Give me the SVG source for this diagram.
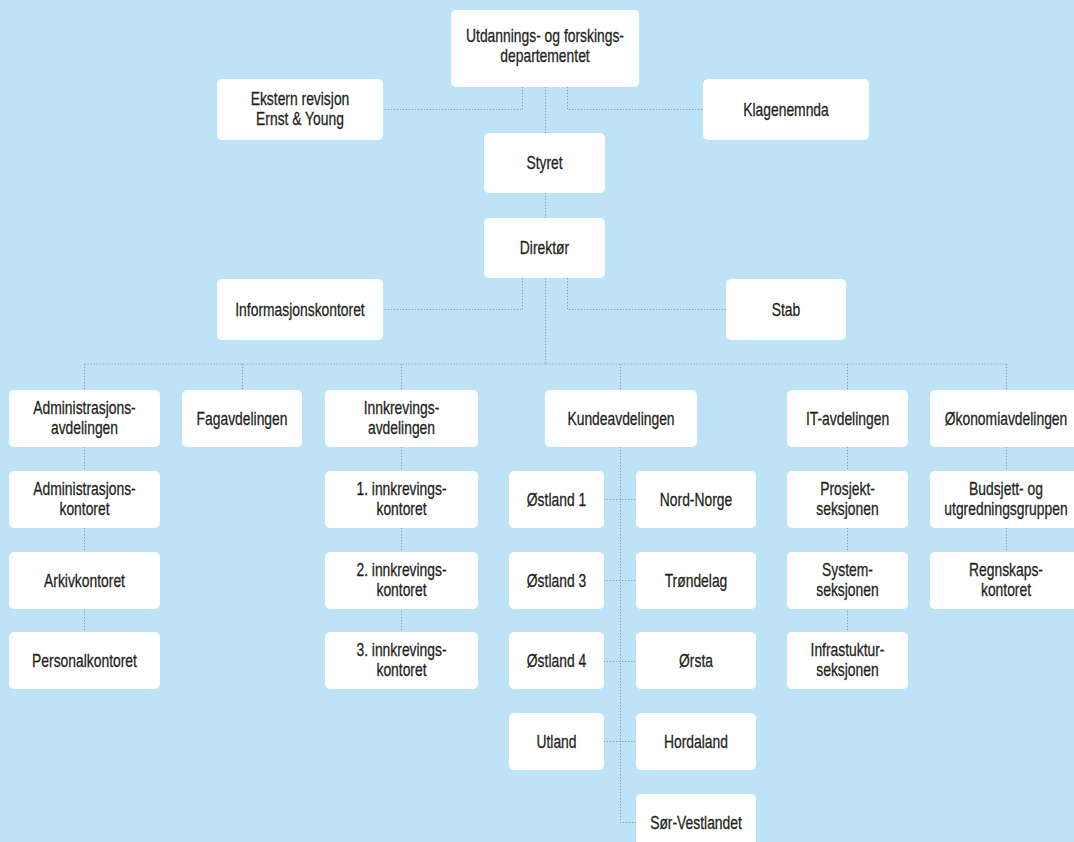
<svg xmlns="http://www.w3.org/2000/svg" width="1074" height="842" viewBox="0 0 1074 842">
<style>
.bg{fill:#bee3f6}
.n rect{fill:#ffffff;stroke:none}
.n text{font-family:"Liberation Sans",Arial,sans-serif;font-size:19px;fill:#231f20;stroke:#231f20;stroke-width:0.3;text-anchor:middle}
.c path{fill:none;stroke:#8c979e;stroke-width:1;stroke-dasharray:1.2 1.8}
</style>
<rect class="bg" x="0" y="0" width="1074" height="842"/>
<g class="c">
<path d="M522.5 87V109.5H383"/>
<path d="M567.5 87V109.5H703"/>
<path d="M545.5 87V133"/>
<path d="M545.5 193V218"/>
<path d="M522.5 278V309.5H383"/>
<path d="M567.5 278V309.5H726"/>
<path d="M545.5 278V364"/>
<path d="M84.5 364H1006.5"/>
<path d="M84.5 364V390"/>
<path d="M242.5 364V390"/>
<path d="M401.5 364V390"/>
<path d="M620.5 364V390"/>
<path d="M847.5 364V390"/>
<path d="M1006.5 364V390"/>
<path d="M84.5 447V471M84.5 528V552M84.5 608V632"/>
<path d="M401.5 447V471M401.5 528V552M401.5 608V632"/>
<path d="M847.5 447V471M847.5 528V552M847.5 608V632"/>
<path d="M1006.5 447V471M1006.5 528V552"/>
<path d="M620.5 447V822.5H636"/>
<path d="M604 499.5H636M604 580.5H636M604 661.5H636M604 741.5H636"/>
</g>
<g id="n-uf" class="n"><rect x="451" y="10" width="188" height="77" rx="5"/><text transform="translate(545 42) scale(0.73 1)">Utdannings- og forskings-</text><text transform="translate(545 62) scale(0.73 1)">departementet</text></g>
<g id="n-ekstern" class="n"><rect x="217" y="79" width="166" height="61" rx="5"/><text transform="translate(300 104.5) scale(0.73 1)">Ekstern revisjon</text><text transform="translate(300 124.5) scale(0.73 1)">Ernst &amp; Young</text></g>
<g id="n-klage" class="n"><rect x="703" y="79" width="166" height="61" rx="5"/><text transform="translate(786 115.5) scale(0.73 1)">Klagenemnda</text></g>
<g id="n-styret" class="n"><rect x="484" y="133" width="121" height="60" rx="5"/><text transform="translate(544.5 169) scale(0.73 1)">Styret</text></g>
<g id="n-direktor" class="n"><rect x="484" y="218" width="121" height="60" rx="5"/><text transform="translate(544.5 254) scale(0.73 1)">Direktør</text></g>
<g id="n-info" class="n"><rect x="217" y="279" width="166" height="61" rx="5"/><text transform="translate(300 315.5) scale(0.73 1)">Informasjonskontoret</text></g>
<g id="n-stab" class="n"><rect x="726" y="279" width="120" height="61" rx="5"/><text transform="translate(786 315.5) scale(0.73 1)">Stab</text></g>
<g id="n-adm" class="n"><rect x="9" y="390" width="151" height="57" rx="5"/><text transform="translate(84.5 413.5) scale(0.73 1)">Administrasjons-</text><text transform="translate(84.5 434) scale(0.73 1)">avdelingen</text></g>
<g id="n-fag" class="n"><rect x="182" y="390" width="120" height="57" rx="5"/><text transform="translate(242 425) scale(0.73 1)">Fagavdelingen</text></g>
<g id="n-innk" class="n"><rect x="325" y="390" width="153" height="57" rx="5"/><text transform="translate(401.5 413.5) scale(0.73 1)">Innkrevings-</text><text transform="translate(401.5 434) scale(0.73 1)">avdelingen</text></g>
<g id="n-kunde" class="n"><rect x="545" y="390" width="152" height="57" rx="5"/><text transform="translate(621 425) scale(0.73 1)">Kundeavdelingen</text></g>
<g id="n-it" class="n"><rect x="787" y="390" width="121" height="57" rx="5"/><text transform="translate(847.5 425) scale(0.73 1)">IT-avdelingen</text></g>
<g id="n-okonomi" class="n"><rect x="930" y="390" width="152" height="57" rx="5"/><text transform="translate(1006 425) scale(0.73 1)">Økonomiavdelingen</text></g>
<g id="n-admkontor" class="n"><rect x="9" y="471" width="151" height="57" rx="5"/><text transform="translate(84.5 494.5) scale(0.73 1)">Administrasjons-</text><text transform="translate(84.5 515) scale(0.73 1)">kontoret</text></g>
<g id="n-arkiv" class="n"><rect x="9" y="552" width="151" height="57" rx="5"/><text transform="translate(84.5 587) scale(0.73 1)">Arkivkontoret</text></g>
<g id="n-personal" class="n"><rect x="9" y="632" width="151" height="57" rx="5"/><text transform="translate(84.5 667) scale(0.73 1)">Personalkontoret</text></g>
<g id="n-innk1" class="n"><rect x="325" y="471" width="153" height="57" rx="5"/><text transform="translate(401.5 494.5) scale(0.73 1)">1. innkrevings-</text><text transform="translate(401.5 515) scale(0.73 1)">kontoret</text></g>
<g id="n-innk2" class="n"><rect x="325" y="552" width="153" height="57" rx="5"/><text transform="translate(401.5 575.5) scale(0.73 1)">2. innkrevings-</text><text transform="translate(401.5 596) scale(0.73 1)">kontoret</text></g>
<g id="n-innk3" class="n"><rect x="325" y="632" width="153" height="57" rx="5"/><text transform="translate(401.5 655.5) scale(0.73 1)">3. innkrevings-</text><text transform="translate(401.5 676) scale(0.73 1)">kontoret</text></g>
<g id="n-ost1" class="n"><rect x="509" y="471" width="95" height="57" rx="5"/><text transform="translate(556.5 506) scale(0.73 1)">Østland 1</text></g>
<g id="n-ost3" class="n"><rect x="509" y="552" width="95" height="57" rx="5"/><text transform="translate(556.5 587) scale(0.73 1)">Østland 3</text></g>
<g id="n-ost4" class="n"><rect x="509" y="632" width="95" height="57" rx="5"/><text transform="translate(556.5 667) scale(0.73 1)">Østland 4</text></g>
<g id="n-utland" class="n"><rect x="509" y="713" width="95" height="57" rx="5"/><text transform="translate(556.5 748) scale(0.73 1)">Utland</text></g>
<g id="n-nord" class="n"><rect x="636" y="471" width="120" height="57" rx="5"/><text transform="translate(696 506) scale(0.73 1)">Nord-Norge</text></g>
<g id="n-trond" class="n"><rect x="636" y="552" width="120" height="57" rx="5"/><text transform="translate(696 587) scale(0.73 1)">Trøndelag</text></g>
<g id="n-orsta" class="n"><rect x="636" y="632" width="120" height="57" rx="5"/><text transform="translate(696 667) scale(0.73 1)">Ørsta</text></g>
<g id="n-hord" class="n"><rect x="636" y="713" width="120" height="57" rx="5"/><text transform="translate(696 748) scale(0.73 1)">Hordaland</text></g>
<g id="n-sorvest" class="n"><rect x="636" y="794" width="120" height="57" rx="5"/><text transform="translate(696 829) scale(0.73 1)">Sør-Vestlandet</text></g>
<g id="n-prosjekt" class="n"><rect x="787" y="471" width="121" height="57" rx="5"/><text transform="translate(847.5 494.5) scale(0.73 1)">Prosjekt-</text><text transform="translate(847.5 515) scale(0.73 1)">seksjonen</text></g>
<g id="n-system" class="n"><rect x="787" y="552" width="121" height="57" rx="5"/><text transform="translate(847.5 575.5) scale(0.73 1)">System-</text><text transform="translate(847.5 596) scale(0.73 1)">seksjonen</text></g>
<g id="n-infra" class="n"><rect x="787" y="632" width="121" height="57" rx="5"/><text transform="translate(847.5 655.5) scale(0.73 1)">Infrastuktur-</text><text transform="translate(847.5 676) scale(0.73 1)">seksjonen</text></g>
<g id="n-budsjett" class="n"><rect x="930" y="471" width="152" height="57" rx="5"/><text transform="translate(1006 494.5) scale(0.73 1)">Budsjett- og</text><text transform="translate(1006 515) scale(0.73 1)">utgredningsgruppen</text></g>
<g id="n-regnskap" class="n"><rect x="930" y="552" width="152" height="57" rx="5"/><text transform="translate(1006 575.5) scale(0.73 1)">Regnskaps-</text><text transform="translate(1006 596) scale(0.73 1)">kontoret</text></g>
</svg>
